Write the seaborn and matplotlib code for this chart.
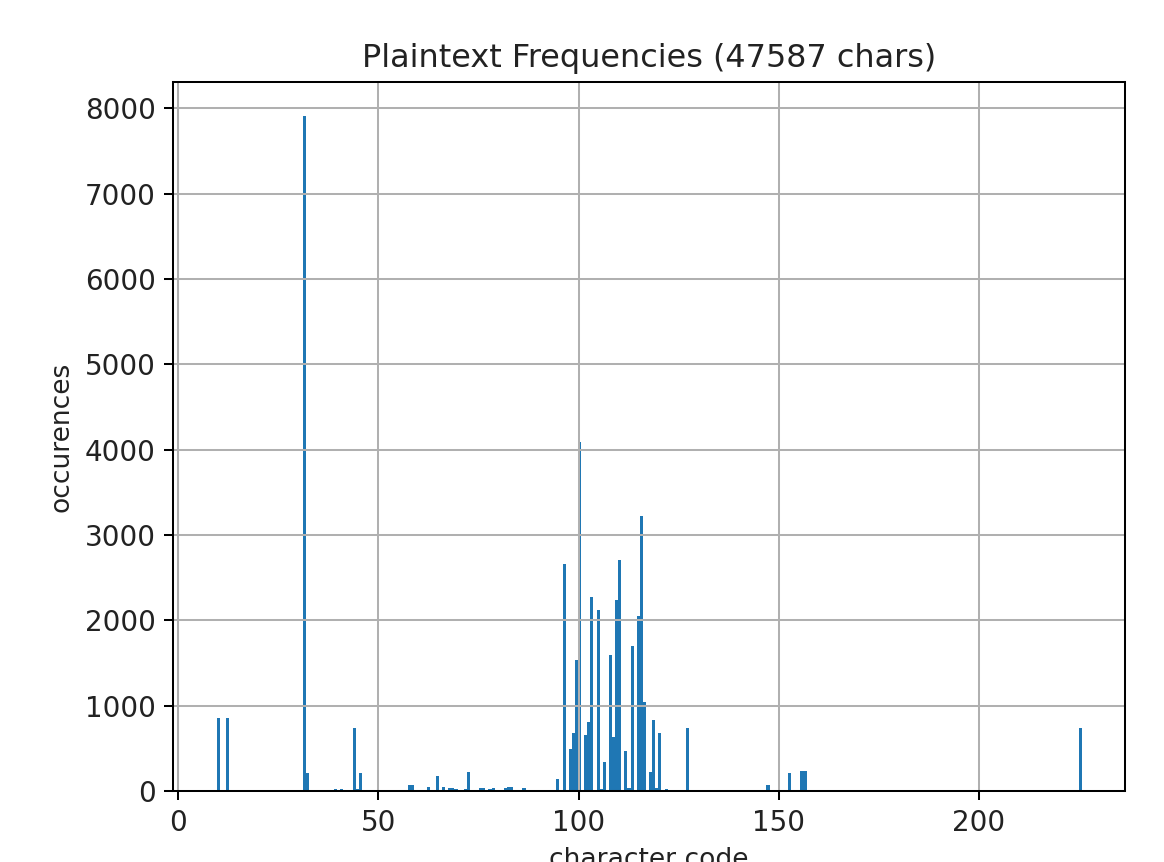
import numpy as np
import pandas as pd
import matplotlib
matplotlib.use("Agg")
import matplotlib.pyplot as plt
import seaborn as sns

# character codes and their occurrence counts
char_codes = [10, 13, 32, 33, 40, 41, 44, 45, 46, 58, 59, 63,
              65, 66, 67, 68, 69, 70, 71, 72, 73, 75, 76, 77, 78, 79,
              82, 83, 84, 87, 95,
              97, 98, 99, 100, 101, 102, 103, 104, 105, 106, 107, 108, 109,
              110, 111, 112, 113, 114, 115, 116, 117, 118, 119, 120, 121, 122,
              128, 148, 153, 156, 157, 226]
char_counts = [857, 857, 7914, 207, 22, 22, 740, 25, 207, 66, 66, 43,
               178, 12, 45, 40, 30, 28, 15, 20, 226, 12, 30, 30, 28, 30,
               35, 42, 42, 30, 137,
               2655, 495, 675, 1532, 4094, 655, 811, 2273, 2123, 25, 335, 1598, 628,
               2234, 2702, 471, 40, 1696, 2047, 3220, 1045, 226, 830, 30, 675, 20,
               740, 70, 207, 230, 230, 740]
n_bins = 280
total_chars = 47587

title_text = f"Plaintext Frequencies ({total_chars} chars)"
x_label = "character code"
y_label = "occurences"

df = pd.DataFrame({"code": char_codes, "count": char_counts})

fig = plt.figure(figsize=(6.4, 862 / 182), dpi=182)
ax = fig.add_axes([0.1488, 0.0824, 0.9657 - 0.1488, 0.9049 - 0.0824])

sns.histplot(data=df, x="code", weights="count", bins=n_bins,
             binrange=(min(char_codes), max(char_codes)),
             color="#1f77b4", alpha=1.0, linewidth=0, edgecolor="none", ax=ax)

# bars aligned on left bin edges (as in the original hist(align='left'))
bw = (max(char_codes) - min(char_codes)) / n_bins
for p in ax.patches:
    p.set_x(p.get_x() - bw / 2)
ax.relim()
ax.autoscale_view()

ax.grid(True, color="#b0b0b0", linewidth=0.8)
ax.set_axisbelow("line")
ax.set_title(title_text, fontsize=12.6, color="#222222")
ax.set_xlabel(x_label, fontsize=10.5, color="#222222")
ax.set_ylabel(y_label, fontsize=10.5, color="#222222")
ax.set_xticks([0, 50, 100, 150, 200])
ax.set_yticks([0, 1000, 2000, 3000, 4000, 5000, 6000, 7000, 8000])
ax.tick_params(labelsize=11, labelcolor="#222222")

fig.savefig("out.png", dpi=182)
